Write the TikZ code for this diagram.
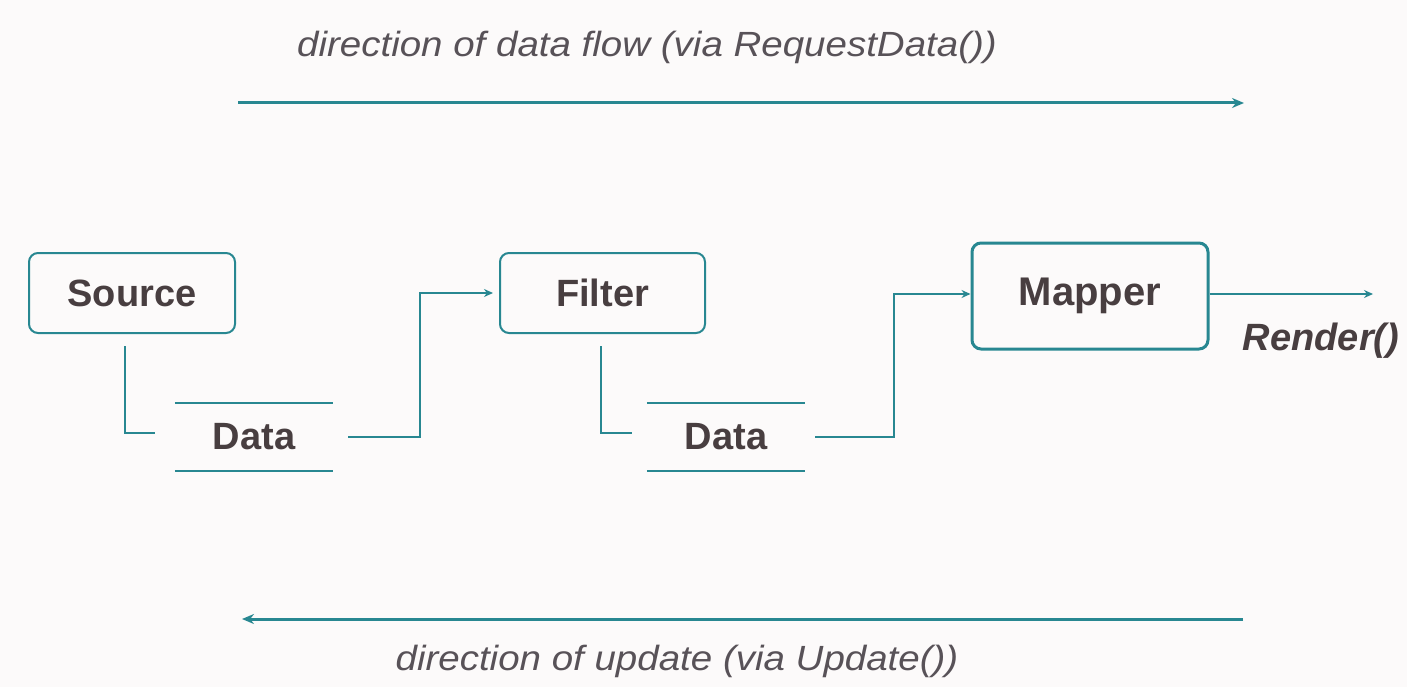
\documentclass[tikz,border=0pt]{standalone}
\usepackage{fontspec}
\setmainfont{Liberation Sans}
\usetikzlibrary{arrows.meta,positioning}
\definecolor{teal1}{RGB}{40,135,145}
\definecolor{txt}{RGB}{72,62,64}
\definecolor{itx}{RGB}{88,82,88}
\definecolor{bg}{RGB}{252,250,250}
\tikzset{
  box/.style={draw=teal1,line width=2pt,rounded corners=9pt,text=txt,font=\fontsize{38}{40}\selectfont\bfseries},
  store/.style={text=txt,font=\fontsize{38}{40}\selectfont\bfseries,minimum width=158pt,minimum height=68pt,inner sep=0pt},
  conn/.style={draw=teal1,line width=2pt},
  tip/.style={-{Stealth[length=9pt,width=8pt]}},
  bigarrow/.style={draw=teal1,line width=3pt,-{Stealth[length=12pt,width=10pt]}},
  note/.style={text=itx,font=\fontsize{35}{37}\selectfont\itshape,inner sep=0pt}
}
\begin{document}
\begin{tikzpicture}[x=1pt,y=-1pt]
\fill[bg] (0,0) rectangle (1407,687);
\useasboundingbox (0,0) rectangle (1407,687);

% top
\node[note] (toptext) at (647,47) {\scalebox{1.1}[1]{direction of data flow (via RequestData())}};
\coordinate (t1) at (238,103);
\coordinate (t2) at (1244,103);
\draw[bigarrow] (t1) -- (t2);

% bottom
\coordinate (b1) at (1243,619);
\coordinate (b2) at (242,619);
\draw[bigarrow] (b1) -- (b2);
\node[note] (bottext) at (677,661) {\scalebox{1.1}[1]{direction of update (via Update())}};

% boxes
\node[box,minimum width=206pt,minimum height=80pt] (src) at (132,293) {Source};
\node[box,minimum width=205pt,minimum height=80pt] (flt) at (602.5,293) {Filter};
\node[box,line width=3pt,minimum width=236pt,minimum height=106pt,font=\fontsize{40}{42}\selectfont\bfseries] (map) at (1090,296) {Mapper};

% data stores
\node[store] (d1) at (254,437) {Data};
\node[store] (d2) at (726,437) {Data};
\foreach \d in {d1,d2}{
  \draw[conn] (\d.north west) -- (\d.north east);
  \draw[conn] (\d.south west) -- (\d.south east);
}

% links
\draw[conn] ([xshift=-7pt,yshift=-12pt]src.south) |- ([xshift=-20pt,yshift=4pt]d1.west);
\draw[conn] ([xshift=-2pt,yshift=-12pt]flt.south) |- ([xshift=-15pt,yshift=4pt]d2.west);
\draw[conn,tip] ([xshift=15pt]d1.east) -- ++(72,0) |- ([xshift=-6pt]flt.west);
\draw[conn,tip] ([xshift=10pt]d2.east) -- ++(79,0) |- ([yshift=2pt]map.west);

% render
\coordinate (rend) at (1373,294);
\draw[conn,tip] ([yshift=2pt]map.east) -- (rend);
\node[text=txt,font=\fontsize{38}{40}\selectfont\bfseries\itshape,inner sep=0pt] (rtext) at (1321,341) {Render()};
\end{tikzpicture}
\end{document}
